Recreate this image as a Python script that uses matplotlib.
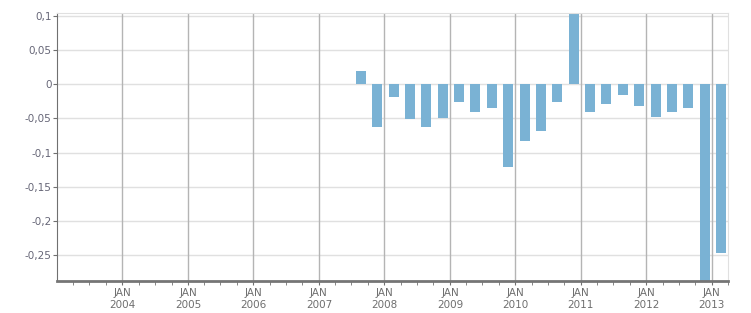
import pandas as pd
import matplotlib
matplotlib.use("Agg")
import matplotlib.pyplot as plt
import matplotlib.dates as mdates
from matplotlib.ticker import FixedLocator, FuncFormatter

# quarterly values (one bar per quarter, Q3 2007 .. Q1 2013)
dates = [
    "2007-08-22", "2007-11-22", "2008-02-22", "2008-05-22", "2008-08-22",
    "2008-11-22", "2009-02-22", "2009-05-22", "2009-08-22", "2009-11-22",
    "2010-02-22", "2010-05-22", "2010-08-22", "2010-11-22", "2011-02-22",
    "2011-05-22", "2011-08-22", "2011-11-22", "2012-02-22", "2012-05-22",
    "2012-08-22", "2012-11-22", "2013-02-22",
]
values = [
    0.020, -0.063, -0.019, -0.051, -0.063,
    -0.050, -0.026, -0.040, -0.035, -0.121,
    -0.083, -0.069, -0.026, 0.103, -0.040,
    -0.029, -0.016, -0.032, -0.048, -0.041,
    -0.035, -0.300, -0.247,
]
y_ticks = [0.1, 0.05, 0, -0.05, -0.1, -0.15, -0.2, -0.25]
years = list(range(2004, 2014))

x = pd.to_datetime(dates)
year_dates = [pd.Timestamp(f"{yr}-01-01") for yr in years]

fig = plt.figure(figsize=(7.51, 3.13), dpi=100)
ax = fig.add_axes([0.0759, 0.1022, 0.8935, 0.8563])

# grid first so bars sit on top
for yt in y_ticks:
    ax.axhline(yt, color="#e0e0e0", lw=1, zorder=0)
for d in year_dates:
    ax.axvline(d, color="#b4b4b4", lw=1, zorder=0)

ax.bar(x, values, width=56, color="#7ab2d4", zorder=2)

ax.set_xlim(pd.Timestamp("2003-01-01"), pd.Timestamp("2013-04-01"))
ax.set_ylim(-0.288, 0.1045)

ax.xaxis.set_major_locator(FixedLocator(mdates.date2num(year_dates)))
ax.xaxis.set_major_formatter(mdates.DateFormatter("JAN\n%Y"))
ax.xaxis.set_minor_locator(mdates.MonthLocator(bymonth=[4, 7, 10]))
ax.yaxis.set_major_locator(FixedLocator(y_ticks))
ax.yaxis.set_major_formatter(FuncFormatter(lambda v, p: f"{v:g}".replace(".", ",")))

for s in ["top", "right"]:
    ax.spines[s].set_color("#e0e0e0")
ax.spines["left"].set_color("#707070")
ax.spines["bottom"].set_color("#757575")
ax.spines["bottom"].set_linewidth(2)
ax.spines["bottom"].set_zorder(3)

ax.tick_params(axis="y", length=3, color="#707070", labelsize=7.5, labelcolor="#666677", pad=1)
ax.tick_params(axis="x", which="major", length=3, color="#707070", labelsize=7.5,
               labelcolor="#6e6e6e", pad=2)
ax.tick_params(axis="x", which="minor", length=3, color="#707070")
for lbl in ax.get_xticklabels():
    lbl.set_linespacing(1.25)

fig.savefig("out.png", dpi=100)
